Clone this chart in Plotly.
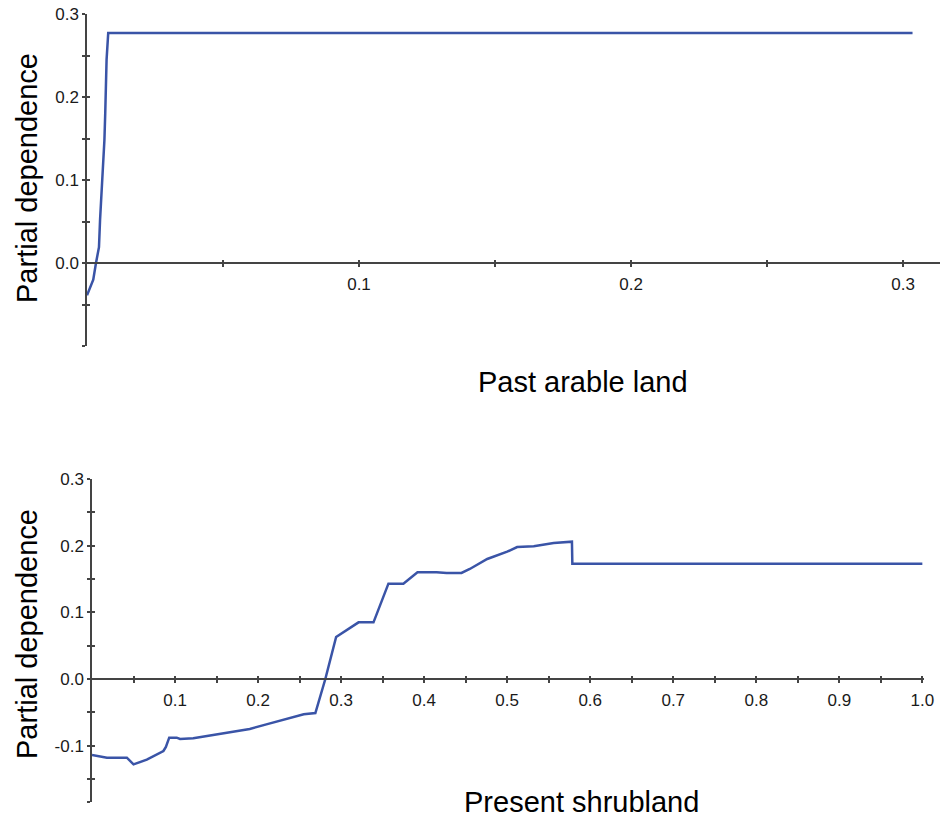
import plotly.graph_objects as go

# ---- data ----
arable_x = [0, 0.0023, 0.0033, 0.0044, 0.0048, 0.0054, 0.0060, 0.0064, 0.0067,
            0.0070, 0.0072, 0.0078, 0.3035]
arable_y = [-0.039, -0.020, 0.0, 0.019, 0.052, 0.084, 0.116, 0.148, 0.180,
            0.212, 0.245, 0.277, 0.277]

shrub_x = [0, 0.006, 0.018, 0.042, 0.050, 0.066, 0.086, 0.089, 0.093, 0.102,
           0.106, 0.122, 0.146, 0.166, 0.190, 0.210, 0.235, 0.255, 0.269, 0.281,
           0.294, 0.307, 0.321, 0.339, 0.357, 0.375, 0.392, 0.415, 0.427, 0.445,
           0.455, 0.476, 0.500, 0.512, 0.532, 0.556, 0.578, 0.5785, 1.0]
shrub_y = [-0.114, -0.115, -0.118, -0.118, -0.128, -0.121, -0.108, -0.102, -0.088,
           -0.088, -0.090, -0.089, -0.084, -0.080, -0.075, -0.068, -0.060, -0.053,
           -0.051, 0.0, 0.063, 0.074, 0.085, 0.085, 0.143, 0.143, 0.160, 0.160,
           0.159, 0.159, 0.165, 0.180, 0.191, 0.198, 0.199, 0.204, 0.206, 0.173,
           0.173]

top_xticks = [0.05, 0.1, 0.15, 0.2, 0.25, 0.3]
top_xlabels = ["", "0.1", "", "0.2", "", "0.3"]
top_yticks = [-0.1, -0.05, 0.0, 0.05, 0.1, 0.15, 0.2, 0.25, 0.3]
top_ylabels = ["", "", "0.0", "", "0.1", "", "0.2", "", "0.3"]

bot_xticks = [round(0.05 * i, 2) for i in range(1, 21)]
bot_xlabels = [("%.1f" % v) if abs(v * 10 - round(v * 10)) < 1e-9 else "" for v in bot_xticks]
bot_yticks = [-0.1845, -0.15, -0.1, -0.05, 0.0, 0.05, 0.1, 0.15, 0.2, 0.25, 0.3]
bot_ylabels = ["", "", "-0.1", "", "0.0", "", "0.1", "", "0.2", "", "0.3"]

W, H = 943, 820
LINE = "#3a54a7"
AX = "#444444"
FONT = "Liberation Sans, Arial, sans-serif"


def px_x(p):
    return p / W


def px_y(p):
    return 1 - p / H


fig = go.Figure()
fig.add_trace(go.Scatter(x=arable_x, y=arable_y, mode="lines", xaxis="x", yaxis="y",
                         line=dict(color=LINE, width=2.5), showlegend=False))
fig.add_trace(go.Scatter(x=shrub_x, y=shrub_y, mode="lines", xaxis="x2", yaxis="y2",
                         line=dict(color=LINE, width=2.5), showlegend=False))
# invisible companions to carry the inside-tick overlay axes
fig.add_trace(go.Scatter(x=arable_x, y=arable_y, mode="lines", xaxis="x3", yaxis="y3",
                         line=dict(color="rgba(0,0,0,0)", width=0), showlegend=False,
                         hoverinfo="skip"))
fig.add_trace(go.Scatter(x=shrub_x, y=shrub_y, mode="lines", xaxis="x4", yaxis="y4",
                         line=dict(color="rgba(0,0,0,0)", width=0), showlegend=False,
                         hoverinfo="skip"))

tickfont = dict(family=FONT, size=17, color="#1a1a1a")

top_xdom = [px_x(87), px_x(940)]
top_xrange = [0, 0.3136]
top_ydom = [px_y(346), px_y(14)]
top_yrange = [-0.1, 0.3]
top_xpos = px_y(263)

bot_xdom = [px_x(92), px_x(924)]
bot_xrange = [0, 1.002]
bot_ydom = [px_y(802), px_y(479)]
bot_yrange = [-0.1845, 0.3]
bot_xpos = px_y(679)

common = dict(showgrid=False, zeroline=False, tickcolor=AX, tickwidth=1.5, ticklen=3,
              tickfont=tickfont, automargin=False)

fig.update_layout(
    width=W, height=H,
    margin=dict(l=0, r=0, t=0, b=0, pad=0, autoexpand=False),
    paper_bgcolor="white", plot_bgcolor="white",
    xaxis=dict(domain=top_xdom, range=top_xrange, anchor="free", position=top_xpos,
               showline=True, linecolor=AX, linewidth=1.5, ticks="outside",
               tickmode="array", tickvals=top_xticks, ticktext=top_xlabels,
               ticklabelstandoff=3, **common),
    yaxis=dict(domain=top_ydom, range=top_yrange, anchor="x",
               showline=True, linecolor=AX, linewidth=1.5, ticks="outside",
               tickmode="array", tickvals=top_yticks, ticktext=top_ylabels,
               ticklabelstandoff=0, **common),
    xaxis3=dict(domain=top_xdom, range=top_xrange, anchor="free", position=top_xpos,
                overlaying="x", showline=False, ticks="inside", showticklabels=False,
                tickmode="array", tickvals=top_xticks, **common),
    yaxis3=dict(domain=top_ydom, range=top_yrange, anchor="x", overlaying="y",
                showline=False, ticks="inside", showticklabels=False,
                tickmode="array", tickvals=top_yticks, **common),
    xaxis2=dict(domain=bot_xdom, range=bot_xrange, anchor="free", position=bot_xpos,
                showline=True, linecolor=AX, linewidth=1.5, ticks="outside",
                tickmode="array", tickvals=bot_xticks, ticktext=bot_xlabels,
                ticklabelstandoff=3, **common),
    yaxis2=dict(domain=bot_ydom, range=bot_yrange, anchor="x2",
                showline=True, linecolor=AX, linewidth=1.5, ticks="outside",
                tickmode="array", tickvals=bot_yticks, ticktext=bot_ylabels,
                ticklabelstandoff=0, **common),
    xaxis4=dict(domain=bot_xdom, range=bot_xrange, anchor="free", position=bot_xpos,
                overlaying="x2", showline=False, ticks="inside", showticklabels=False,
                tickmode="array", tickvals=bot_xticks, **common),
    yaxis4=dict(domain=bot_ydom, range=bot_yrange, anchor="x2", overlaying="y2",
                showline=False, ticks="inside", showticklabels=False,
                tickmode="array", tickvals=bot_yticks, **common),
)

title_font = dict(family=FONT, size=29, color="black")
annots = [
    dict(text="Partial dependence", x=px_x(27), y=px_y(178), textangle=-90),
    dict(text="Partial dependence", x=px_x(27), y=px_y(634), textangle=-90),
    dict(text="Past arable land", x=px_x(583), y=px_y(382), textangle=0),
    dict(text="Present shrubland", x=px_x(581), y=px_y(802), textangle=0),
]
for a in annots:
    fig.add_annotation(xref="paper", yref="paper", showarrow=False,
                       xanchor="center", yanchor="middle", font=title_font, **a)

fig.write_html(
    "out.html",
    config={"displayModeBar": False},
    post_script=(
        "var gd=document.getElementById('{plot_id}');"
        "gd.style.position='fixed';gd.style.left='0px';gd.style.top='0px';"
        "document.body.style.margin='0';document.body.style.overflow='hidden';"
    ),
)
